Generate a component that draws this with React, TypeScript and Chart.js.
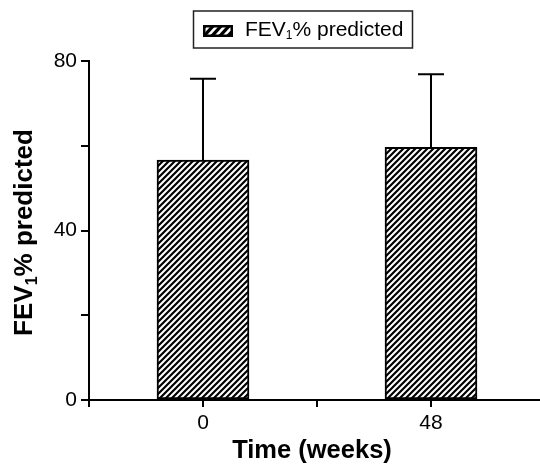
import React, { useEffect, useRef } from "react";
import { Chart, registerables } from "chart.js";

Chart.register(...registerables);

const categories = ["0", "48"];
const means = [56.6, 59.6];
const sds = [19.2, 17.3];
const yTickLabels = [0, 40, 80];
const seriesLabel = "FEV";
const seriesSub = "1";
const seriesRest = "% predicted";
const xTitle = "Time (weeks)";

const FONT = "'Liberation Sans', Arial, sans-serif";

function makePattern(): CanvasPattern | string {
  const s = 6;
  const c = document.createElement("canvas");
  c.width = s;
  c.height = s;
  const g = c.getContext("2d");
  if (!g) return "#fff";
  g.fillStyle = "#fff";
  g.fillRect(0, 0, s, s);
  g.strokeStyle = "#000";
  g.lineWidth = 2.2;
  g.beginPath();
  g.moveTo(0, s);
  g.lineTo(s, 0);
  g.moveTo(-2, 2);
  g.lineTo(2, -2);
  g.moveTo(s - 2, s + 2);
  g.lineTo(s + 2, s - 2);
  g.stroke();
  return g.createPattern(c, "repeat") || "#fff";
}

function drawSubText(
  ctx: CanvasRenderingContext2D,
  x: number,
  y: number,
  size: number,
  bold: boolean,
  subSize: number,
  subDrop: number
) {
  const w = bold ? "bold " : "";
  ctx.textBaseline = "middle";
  ctx.textAlign = "left";
  ctx.font = `${w}${size}px ${FONT}`;
  ctx.fillText(seriesLabel, x, y);
  x += ctx.measureText(seriesLabel).width;
  ctx.font = `${w}${subSize}px ${FONT}`;
  ctx.fillText(seriesSub, x, y + subDrop);
  x += ctx.measureText(seriesSub).width;
  ctx.font = `${w}${size}px ${FONT}`;
  ctx.fillText(seriesRest, x, y);
}

function measureSubText(ctx: CanvasRenderingContext2D, size: number, bold: boolean, subSize: number) {
  const w = bold ? "bold " : "";
  ctx.font = `${w}${size}px ${FONT}`;
  let t = ctx.measureText(seriesLabel).width + ctx.measureText(seriesRest).width;
  ctx.font = `${w}${subSize}px ${FONT}`;
  t += ctx.measureText(seriesSub).width;
  return t;
}

const decorPlugin = {
  id: "decor",
  afterDatasetsDraw(chart: any) {
    const ctx: CanvasRenderingContext2D = chart.ctx;
    const y = chart.scales.y;
    const meta = chart.getDatasetMeta(0);
    ctx.save();
    ctx.strokeStyle = "#000";
    ctx.lineWidth = 2;
    meta.data.forEach((bar: any, i: number) => {
      const top = y.getPixelForValue(means[i] + sds[i]);
      ctx.beginPath();
      ctx.moveTo(bar.x, bar.y);
      ctx.lineTo(bar.x, top);
      ctx.moveTo(bar.x - 13, top);
      ctx.lineTo(bar.x + 13, top);
      ctx.stroke();
    });
    ctx.restore();
  },
  afterDraw(chart: any) {
    const ctx: CanvasRenderingContext2D = chart.ctx;
    const x = chart.scales.x;
    const area = chart.chartArea;
    ctx.save();
    ctx.strokeStyle = "#000";
    ctx.lineWidth = 2;
    const p0 = x.getPixelForValue(0);
    const p1 = x.getPixelForValue(1);
    const bounds = [area.left, (p0 + p1) / 2, area.right];
    bounds.forEach((bx) => {
      ctx.beginPath();
      ctx.moveTo(bx, area.bottom);
      ctx.lineTo(bx, area.bottom + 7);
      ctx.stroke();
    });
    ctx.fillStyle = "#000";
    // y title
    ctx.save();
    const ty = (area.top + area.bottom) / 2 + 2;
    ctx.translate(25, ty);
    ctx.rotate(-Math.PI / 2);
    const tw = measureSubText(ctx, 26, true, 16);
    drawSubText(ctx, -tw / 2, 0, 26, true, 16, 8);
    ctx.restore();
    // x title
    ctx.font = `bold 25.5px ${FONT}`;
    ctx.textAlign = "center";
    ctx.textBaseline = "middle";
    ctx.fillText(xTitle, 312, 451);
    // legend
    ctx.strokeStyle = "#222";
    ctx.lineWidth = 1.5;
    ctx.strokeRect(193.5, 11, 219, 37);
    ctx.fillStyle = "#000";
    ctx.fillRect(203, 25, 30, 12);
    ctx.save();
    ctx.beginPath();
    ctx.rect(205.5, 27.5, 25, 7);
    ctx.clip();
    ctx.strokeStyle = "#fff";
    ctx.lineWidth = 2.6;
    for (let k = 0; k < 5; k++) {
      const bx = 199 + k * 8;
      ctx.beginPath();
      ctx.moveTo(bx, 37);
      ctx.lineTo(bx + 11, 25);
      ctx.stroke();
    }
    ctx.restore();
    ctx.fillStyle = "#000";
    drawSubText(ctx, 245, 30, 21, false, 12, 6);
    ctx.restore();
  },
};

export default function App() {
  const ref = useRef<HTMLCanvasElement | null>(null);
  useEffect(() => {
    if (!ref.current) return;
    const chart = new Chart(ref.current, {
      type: "bar",
      data: {
        labels: categories,
        datasets: [
          {
            label: seriesLabel + seriesSub + seriesRest,
            data: means,
            backgroundColor: makePattern() as any,
            borderColor: "#000",
            borderWidth: 2,
            borderSkipped: false,
            barThickness: 92,
          },
        ],
      },
      options: {
        animation: false,
        responsive: false,
        devicePixelRatio: 1,
        layout: { padding: { top: 61, right: 15, left: 0, bottom: 0 } },
        plugins: {
          legend: { display: false },
          tooltip: { enabled: false },
          title: { display: false },
        },
        scales: {
          x: {
            type: "category",
            offset: true,
            grid: {
              display: true,
              offset: false,
              drawOnChartArea: false,
              drawTicks: true,
              tickLength: 7,
              color: "#000",
              lineWidth: 2,
            },
            border: { display: true, color: "#000", width: 2 },
            ticks: {
              color: "#000",
              font: { family: FONT, size: 21 },
              padding: 4,
              maxRotation: 0,
            },
            afterFit: (s: any) => {
              s.height = 65;
            },
          },
          y: {
            min: 0,
            max: 80,
            grid: {
              display: true,
              drawOnChartArea: false,
              drawTicks: true,
              tickLength: 8,
              color: "#000",
              lineWidth: 2,
            },
            border: { display: true, color: "#000", width: 2 },
            ticks: {
              stepSize: 20,
              color: "#000",
              font: { family: FONT, size: 21 },
              padding: 4,
              callback: (v: any) => (yTickLabels.includes(Number(v)) ? String(v) : ""),
            },
            afterFit: (s: any) => {
              s.width = 89;
            },
          },
        },
      },
      plugins: [decorPlugin],
    });
    return () => chart.destroy();
  }, []);
  return (
    <div
      style={{
        position: "fixed",
        left: 0,
        top: 0,
        width: 540,
        height: 465,
        overflow: "hidden",
        background: "#fff",
      }}
    >
      <canvas ref={ref} width={560} height={465} style={{ width: 560, height: 465, display: "block" }} />
    </div>
  );
}
